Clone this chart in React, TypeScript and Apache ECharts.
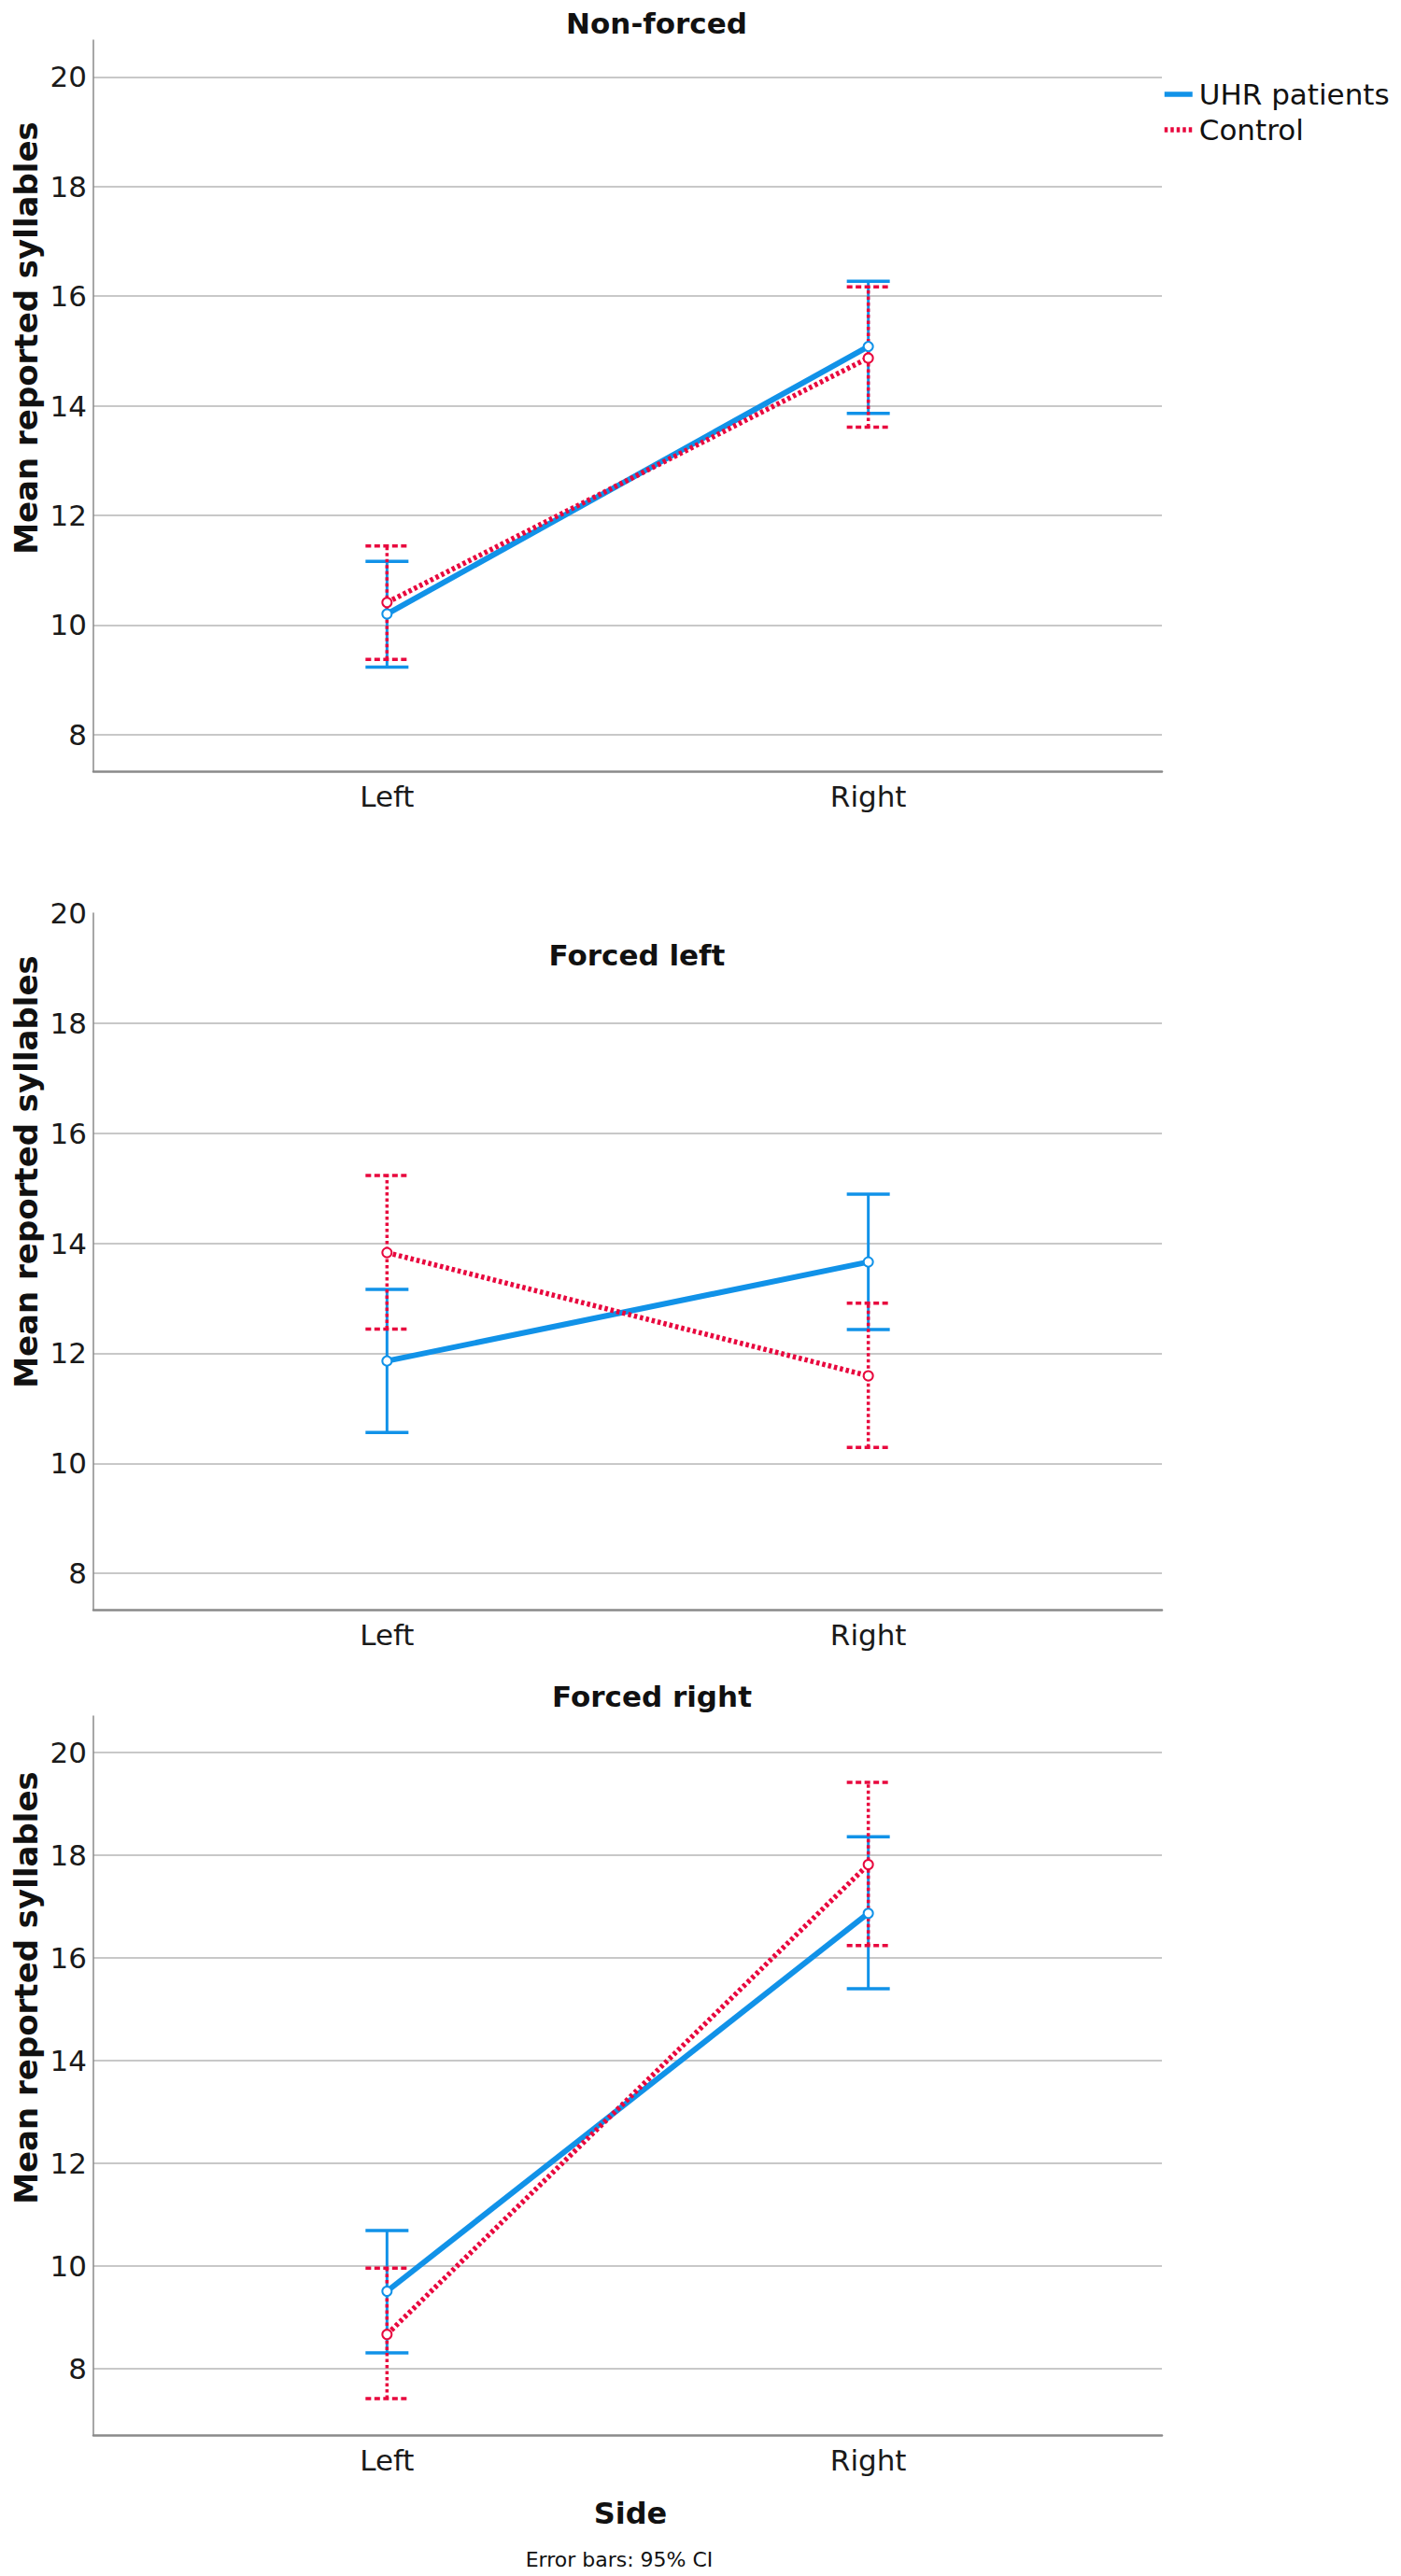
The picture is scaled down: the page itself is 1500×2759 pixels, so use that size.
import React, { useEffect, useRef } from "react";
import * as echarts from "echarts";

// ---------- data ----------
const sides = ["Left", "Right"];
const panelTitles = ["Non-forced", "Forced left", "Forced right"];
const groupNames = ["UHR patients", "Control"];
const yTickValues = [8, 10, 12, 14, 16, 18, 20];
const yGridValuesPanel2 = [8, 10, 12, 14, 16, 18];

// per panel: [Left, Right]
const uhrMean = [[10.2, 15.08], [11.86, 13.66], [9.51, 16.87]];
const uhrLow = [[9.23, 13.86], [10.56, 12.43], [8.31, 15.4]];
const uhrHigh = [[11.16, 16.27], [13.16, 14.89], [10.69, 18.36]];
const ctrlMean = [[10.41, 14.87], [13.83, 11.59], [8.67, 17.82]];
const ctrlLow = [[9.37, 13.61], [12.44, 10.29], [7.42, 16.24]];
const ctrlHigh = [[11.44, 16.17], [15.23, 12.91], [9.96, 19.42]];

const yMin = [7.33, 7.34, 6.71];
const yMax = [20.67, 20, 20.71];
const xMin = -0.61;
const xMax = 1.61;

const yAxisTitle = "Mean reported syllables";
const xAxisTitle = "Side";
const footnote = "Error bars: 95% CI";

// ---------- layout / style ----------
const FONT = "'DejaVu Sans', Verdana, sans-serif";
const BLUE = "#1192e8";
const RED = "#e8083e";
const GRID_LEFT = 100;
const GRID_WIDTH = 1144;
const gridTops = [43, 978, 1838];
const gridHeights = [783, 746, 770];
const titleY = [25, 1023, 1817];
const titleX = [703, 682, 698];
const yNameY = [362, 1255, 2129];

function errorBarRender(color: string, dashed: boolean) {
  return (params: any, api: any) => {
    const x = api.value(0);
    const lo = api.coord([x, api.value(1)]);
    const hi = api.coord([x, api.value(2)]);
    const half = 23;
    const vStyle: any = { stroke: color, lineWidth: dashed ? 3.5 : 3, fill: "none" };
    const cStyle: any = { stroke: color, lineWidth: 3.5, fill: "none" };
    if (dashed) {
      vStyle.lineDash = [3.5, 3];
      cStyle.lineDash = [6, 3.5];
    }
    return {
      type: "group",
      children: [
        { type: "line", shape: { x1: lo[0], y1: lo[1], x2: hi[0], y2: hi[1] }, style: vStyle },
        { type: "line", shape: { x1: lo[0] - half, y1: lo[1], x2: lo[0] + half, y2: lo[1] }, style: cStyle },
        { type: "line", shape: { x1: hi[0] - half, y1: hi[1], x2: hi[0] + half, y2: hi[1] }, style: cStyle },
      ],
    };
  };
}

function buildOption() {
  const grid: any[] = [];
  const xAxis: any[] = [];
  const yAxis: any[] = [];
  const series: any[] = [];
  const graphic: any[] = [];

  panelTitles.forEach((title, p) => {
    grid.push({
      left: GRID_LEFT,
      top: gridTops[p],
      width: GRID_WIDTH,
      height: gridHeights[p],
      containLabel: false,
      outerBoundsMode: "none",
    });
    xAxis.push({
      type: "value",
      gridIndex: p,
      min: xMin,
      max: xMax,
      axisLine: { show: true, onZero: false, lineStyle: { color: "#8a8a8a", width: 2.5 } },
      axisTick: { show: false, customValues: [0, 1] },
      splitLine: { show: false },
      axisLabel: {
        show: true,
        customValues: [0, 1],
        formatter: (v: number) => sides[Math.round(v)] ?? "",
        color: "#1a1a1a",
        fontFamily: FONT,
        fontSize: 31,
        margin: 11,
      },
    });
    yAxis.push({
      type: "value",
      gridIndex: p,
      min: yMin[p],
      max: yMax[p],
      axisLine: { show: true, onZero: false, lineStyle: { color: "#8a8a8a", width: 1.5 } },
      axisTick: { show: false, customValues: p === 1 ? yGridValuesPanel2 : yTickValues },
      splitLine: { show: true, lineStyle: { color: "#c8c8c8", width: 2 } },
      axisLabel: {
        show: true,
        customValues: yTickValues,
        color: "#1a1a1a",
        fontFamily: FONT,
        fontSize: 31,
        margin: 7,
      },
    });

    const groups = [
      { name: groupNames[0], mean: uhrMean[p], low: uhrLow[p], high: uhrHigh[p], color: BLUE, dashed: false },
      { name: groupNames[1], mean: ctrlMean[p], low: ctrlLow[p], high: ctrlHigh[p], color: RED, dashed: true },
    ];
    groups.forEach((g) => {
      series.push({
        type: "custom",
        name: g.name + " CI",
        xAxisIndex: p,
        yAxisIndex: p,
        coordinateSystem: "cartesian2d",
        renderItem: errorBarRender(g.color, g.dashed),
        encode: { x: 0, y: [1, 2] },
        data: sides.map((_, i) => [i, g.low[i], g.high[i]]),
        clip: false,
        silent: true,
      });
      series.push({
        type: "line",
        name: g.name,
        xAxisIndex: p,
        yAxisIndex: p,
        data: sides.map((_, i) => [i, g.mean[i]]),
        symbol: "emptyCircle",
        symbolSize: 10,
        showSymbol: true,
        itemStyle: { color: g.color, borderColor: g.color, borderWidth: 1.5 },
        lineStyle: {
          color: g.color,
          width: g.dashed ? 5.5 : 6,
          type: g.dashed ? [3.5, 3] : "solid",
          cap: "butt",
        },
        silent: true,
      });
    });

    graphic.push({
      type: "text",
      x: titleX[p],
      y: titleY[p],
      style: {
        text: title,
        font: `bold 31px ${FONT}`,
        fill: "#111",
        align: "center",
        verticalAlign: "middle",
      },
    });
    graphic.push({
      type: "text",
      x: 28,
      y: yNameY[p],
      rotation: Math.PI / 2,
      style: {
        text: yAxisTitle,
        font: `bold 34px ${FONT}`,
        fill: "#111",
        align: "center",
        verticalAlign: "middle",
      },
    });
  });

  graphic.push({
    type: "text",
    x: 675,
    y: 2692,
    style: { text: xAxisTitle, font: `bold 32px ${FONT}`, fill: "#111", align: "center", verticalAlign: "middle" },
  });
  graphic.push({
    type: "text",
    x: 663,
    y: 2741,
    style: { text: footnote, font: `22px ${FONT}`, fill: "#111", align: "center", verticalAlign: "middle" },
  });

  return {
    animation: false,
    backgroundColor: "#ffffff",
    textStyle: { fontFamily: FONT },
    legend: {
      data: groupNames,
      orient: "vertical",
      left: 1244,
      top: 84,
      itemWidth: 30,
      itemHeight: 6,
      itemGap: 4,
      selectedMode: false,
      padding: 0,
      itemStyle: { opacity: 0 },
      lineStyle: { width: 5.5 },
      textStyle: { fontFamily: FONT, fontSize: 31, color: "#111", lineHeight: 34, padding: [0, 0, 0, 2] },
    },
    grid,
    xAxis,
    yAxis,
    series,
    graphic,
  };
}

export default function App() {
  const ref = useRef<HTMLDivElement>(null);
  useEffect(() => {
    document.body.style.margin = "0";
    if (!ref.current) return;
    const chart = echarts.init(ref.current, undefined, { renderer: "svg" });
    chart.setOption(buildOption() as any);
    return () => chart.dispose();
  }, []);
  return <div ref={ref} style={{ width: 1500, height: 2759 }} />;
}
